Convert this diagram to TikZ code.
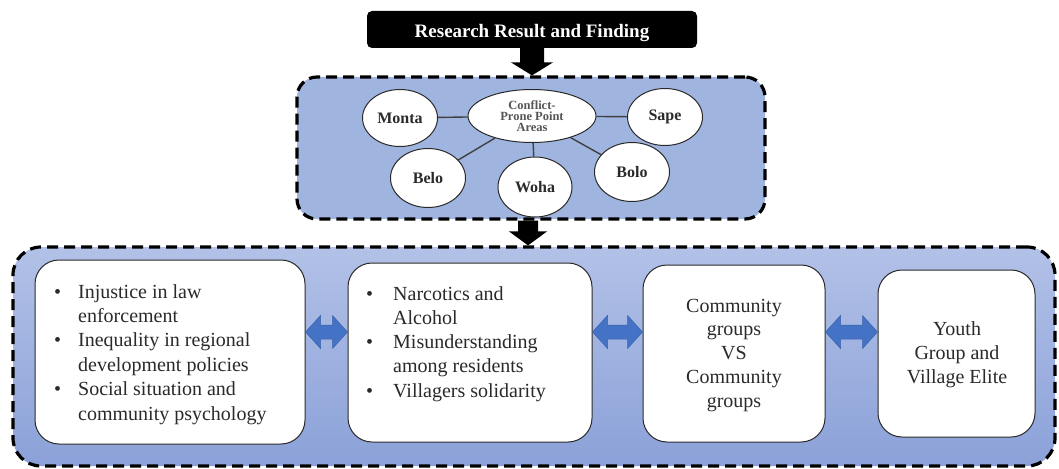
\documentclass[tikz,border=0pt]{standalone}
\usepackage{fontspec}
\setmainfont{Liberation Serif}
\usetikzlibrary{shapes.geometric,calc}
\definecolor{topfill}{HTML}{A0B4E0}
\definecolor{botTop}{HTML}{B2C1E7}
\definecolor{botBot}{HTML}{8BA1D8}
\definecolor{arrblue}{HTML}{4472C4}
\definecolor{arrborder}{HTML}{3A62AE}
\definecolor{textc}{HTML}{2A2A2A}
\definecolor{linec}{HTML}{404040}
\newcommand{\dnarrow}[5]{%
  \fill[black] let \p1=(#1), \p2=(#2) in
    ({\x1-#3},\y1) -- ({\x1-#3},{\y2+#5}) -- ({\x1-#4},{\y2+#5}) -- (\x1,\y2)
    -- ({\x1+#4},{\y2+#5}) -- ({\x1+#3},{\y2+#5}) -- ({\x1+#3},\y1) -- cycle;}
\newcommand{\dblarr}[2]{%
  \filldraw[fill=arrblue, draw=arrborder, line width=0.5pt]
    let \p1=(#1.east |- ay), \p2=(#2.west |- ay) in
    (\p1) -- ({\x1+15pt},{\y1+16.5pt}) -- ({\x1+15pt},{\y1+7pt}) -- ({\x2-15pt},{\y1+7pt})
    -- ({\x2-15pt},{\y1+16.5pt}) -- (\p2) -- ({\x2-15pt},{\y1-16.5pt}) -- ({\x2-15pt},{\y1-7pt})
    -- ({\x1+15pt},{\y1-7pt}) -- ({\x1+15pt},{\y1-16.5pt}) -- cycle;}
\begin{document}
\begin{tikzpicture}[x=1pt,y=-1pt,
  dashbox/.style={draw=black, line width=3.2pt, dash pattern=on 11pt off 6pt},
  wbox/.style={draw=textc, line width=1pt, fill=white, rounded corners=24pt, inner sep=0pt},
  ell/.style={ellipse, draw=textc, line width=1pt, fill=white, inner sep=0pt,
    text=textc, font=\fontsize{16}{18}\selectfont\bfseries},
  conn/.style={draw=linec, line width=1.4pt},
  txt/.style={inner sep=0pt, text=textc}]
\useasboundingbox (0,0) rectangle (1059,468);
% outer containers
\node[dashbox, top color=botTop, bottom color=botBot, rounded corners=28pt,
  minimum width=1042pt, minimum height=219pt] (bot) at (534,356.5) {};
\node[dashbox, fill=topfill, rounded corners=20pt,
  minimum width=468pt, minimum height=142pt] (top) at (531,148) {};
% title
\node[fill=black, rounded corners=5pt, minimum width=330pt, minimum height=37pt,
  text=white, font=\fontsize{19}{22}\selectfont\bfseries,
  text height=17pt, text depth=0pt] (title) at (532,29.5) {Research Result and Finding};
% ellipses
\node[ell, minimum width=128pt, minimum height=53pt, text=textc!80,
  font=\fontsize{12.5}{11}\selectfont\bfseries, align=center] (ctr) at (532,116)
  {Conflict-\\Prone Point\\Areas};
\node[ell, minimum width=75pt, minimum height=57pt] (monta) at (400,118) {Monta};
\node[ell, minimum width=75pt, minimum height=57pt] (sape) at (665,117) {Sape};
\node[ell, minimum width=75pt, minimum height=59pt] (belo) at (428,178) {Belo};
\node[ell, minimum width=74pt, minimum height=60pt] (woha) at (535,187) {Woha};
\node[ell, minimum width=75pt, minimum height=59pt] (bolo) at (632,172) {Bolo};
\draw[conn] (ctr) -- (monta);
\draw[conn] (ctr) -- (sape);
\draw[conn] (ctr) -- (belo);
\draw[conn] (ctr) -- (woha);
\draw[conn] (ctr) -- (bolo);
% down arrows
\dnarrow{title.south}{title.south |- top.north}{12pt}{21pt}{13pt}
\coordinate (a2s) at ($(top.south)+(-3,0)$);
\coordinate (a2e) at (a2s |- bot.north);
\dnarrow{a2s}{a2e}{10pt}{19pt}{14pt}
% white boxes
\node[wbox, minimum width=270pt, minimum height=184pt] (b1) at (170,352) {};
\node[wbox, minimum width=244pt, minimum height=179pt] (b2) at (470,352.5) {};
\node[wbox, minimum width=182pt, minimum height=177pt] (b3) at (734,353.5) {};
\node[wbox, minimum width=157pt, minimum height=167pt] (b4) at (956.5,353.5) {};
% texts
\node[txt, anchor=base west, font=\fontsize{20}{24.4}\selectfont] (t1) at (54,298)
  {\begin{tabular}[t]{@{}p{24pt}@{}l@{}}
   \textbullet & Injustice in law\\ & enforcement\\
   \textbullet & Inequality in regional\\ & development policies\\
   \textbullet & Social situation and\\ & community psychology\end{tabular}};
\node[txt, anchor=base west, font=\fontsize{20}{24.25}\selectfont] (t2) at (366,300)
  {\begin{tabular}[t]{@{}p{27pt}@{}l@{}}
   \textbullet & Narcotics and\\ & Alcohol\\
   \textbullet & Misunderstanding\\ & among residents\\
   \textbullet & Villagers solidarity\end{tabular}};
\node[txt, anchor=base, font=\fontsize{20}{23.8}\selectfont] (t3) at (734,312)
  {\begin{tabular}[t]{@{}c@{}}Community\\groups\\VS\\Community\\groups\end{tabular}};
\node[txt, anchor=base, font=\fontsize{20}{24}\selectfont] (t4) at (957,335)
  {\begin{tabular}[t]{@{}c@{}}Youth\\Group and\\Village Elite\end{tabular}};
% double arrows
\coordinate (ay) at (0,332);
\dblarr{b1}{b2}
\dblarr{b2}{b3}
\dblarr{b3}{b4}
\end{tikzpicture}
\end{document}
